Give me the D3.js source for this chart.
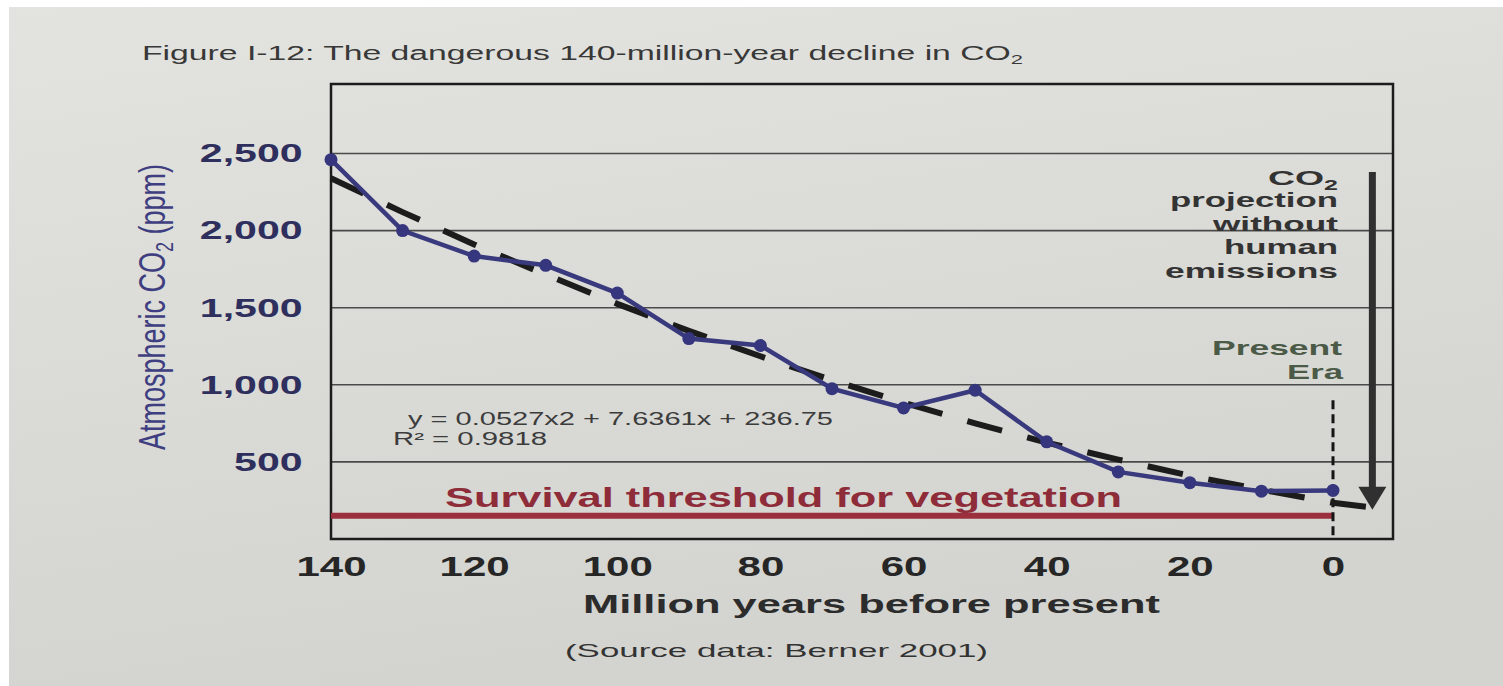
<!DOCTYPE html>
<html>
<head>
<meta charset="utf-8">
<script src="https://cdn.jsdelivr.net/npm/d3@7"></script>
<style>
body{margin:0;background:#fff;overflow:hidden}
text{font-family:"Liberation Sans",Arial,sans-serif}
</style>
</head>
<body>
<div id="chart"></div>
<script>
// data (million years before present -> ppm)
var years = [140,130,120,110,100,90,80,70,60,50,40,30,20,10,0]
var co2 = [2460,2000,1835,1775,1595,1300,1255,975,850,965,630,435,365,310,315]
// polynomial trend line as drawn (dashed)
var trendYears = [140,130,120,110,100,90,80,70,60,50,40,30,20,10,0,-8]
var trendCo2 = [2340,2120,1910,1715,1525,1350,1185,1030,885,750,625,515,410,320,235,190]
var xTicks = [140,120,100,80,60,40,20,0]
var yTicks = [500,1000,1500,2000,2500]
var threshold = 150
var projectionLabel = ['projection','without','human','emissions']

var W = 1503, H = 686
var SX = 1.5 // the photo is stretched sideways, so is the type

var svg = d3.select('#chart').append('svg').attr('width', W).attr('height', H)

// paper
var grad = svg.append('defs').append('linearGradient').attr('id', 'paper')
  .attr('x1', 0).attr('y1', 0).attr('x2', 0.3).attr('y2', 1)
grad.append('stop').attr('offset', 0).attr('stop-color', '#e3e3df')
grad.append('stop').attr('offset', 1).attr('stop-color', '#d3d3cf')
svg.append('rect').attr('width', W).attr('height', H).attr('fill', 'url(#paper)')
svg.append('rect').attr('width', W).attr('height', 7).attr('fill', '#fff')
svg.append('rect').attr('width', 9).attr('height', H).attr('fill', '#fff')

var margin = {left: 331, top: 84}
var width = 1062, height = 455

var g = svg.append('g').attr('transform', 'translate(' + margin.left + ',' + margin.top + ')')

var x = d3.scaleLinear().domain([140, 0]).range([0, 1002])
var y = d3.scaleLinear().domain([0, 2500]).range([height, height - 385.5])

function txt(sel, px, py, str, o) {
  var t = sel.append('text')
    .attr('text-anchor', o.anchor || 'start')
    .style('font-size', o.size + 'px')
    .style('font-weight', o.weight || 'normal')
    .attr('fill', o.color)
  if (o.width) {
    t.attr('x', px).attr('y', py)
      .attr('textLength', o.width).attr('lengthAdjust', 'spacingAndGlyphs')
  } else {
    t.attr('transform', 'translate(' + px + ',' + py + ') scale(' + SX + ',1)')
  }
  if (str != null) t.text(str)
  return t
}

// gridlines
g.selectAll('line.grid').data(yTicks).enter().append('line')
  .attr('x1', 0).attr('x2', width)
  .attr('y1', d => y(d)).attr('y2', d => y(d))
  .attr('stroke', '#4a4a4a').attr('stroke-width', 1.6)

// frame
g.append('rect').attr('width', width).attr('height', height)
  .attr('fill', 'none').attr('stroke', '#1c1c1c').attr('stroke-width', 2.5)

// axes
var yAxis = g.append('g').call(d3.axisLeft(y).tickValues(yTicks).tickSize(0).tickPadding(18).tickFormat(d3.format(',')))
yAxis.select('.domain').remove()
yAxis.selectAll('text').attr('transform', 'scale(1.58,1)')
  .style('font-size', '26px').style('font-weight', 'bold').attr('fill', '#2f2f5e')

var xAxis = g.append('g').attr('transform', 'translate(0,' + height + ')')
  .call(d3.axisBottom(x).tickValues(xTicks).tickSize(0).tickPadding(17))
xAxis.select('.domain').remove()
xAxis.selectAll('text').attr('transform', 'scale(' + SX + ',1)')
  .style('font-size', '28px').style('font-weight', 'bold').attr('fill', '#262626')

// survival threshold
g.append('line').attr('x1', x(140)).attr('x2', x(0))
  .attr('y1', y(threshold)).attr('y2', y(threshold))
  .attr('stroke', '#9c2f3d').attr('stroke-width', 6)
txt(svg, 445, 507, 'Survival threshold for vegetation', {size: 28, weight: 'bold', color: '#8e2c39', width: 677})

// present era marker
g.append('line').attr('x1', x(0)).attr('x2', x(0))
  .attr('y1', y(900)).attr('y2', y(0))
  .attr('stroke', '#151515').attr('stroke-width', 3).attr('stroke-dasharray', '9,5')

// trend line
var trend = trendYears.map((d, i) => ({yr: d, v: trendCo2[i]}))
g.append('path').datum(trend)
  .attr('d', d3.line().x(d => x(d.yr)).y(d => y(d.v)))
  .attr('fill', 'none').attr('stroke', '#1c1c1c').attr('stroke-width', 6)
  .attr('stroke-dasharray', '36,26')

// data
var pts = years.map((d, i) => ({yr: d, v: co2[i]}))
g.append('path').datum(pts)
  .attr('d', d3.line().x(d => x(d.yr)).y(d => y(d.v)))
  .attr('fill', 'none').attr('stroke', '#39397e').attr('stroke-width', 4.5)
g.selectAll('circle').data(pts).enter().append('circle')
  .attr('cx', d => x(d.yr)).attr('cy', d => y(d.v)).attr('r', 6.5)
  .attr('fill', '#36367e')

// projection arrow
var ax = x(-5.5), aTop = y(2380), aTip = y(190)
g.append('line').attr('x1', ax).attr('x2', ax).attr('y1', aTop).attr('y2', aTip - 20)
  .attr('stroke', '#303030').attr('stroke-width', 7)
g.append('path').attr('d', 'M' + (ax - 14) + ',' + (aTip - 23) + 'L' + (ax + 14) + ',' + (aTip - 23) + 'L' + ax + ',' + aTip + 'Z')
  .attr('fill', '#303030')

// annotations
var co = txt(svg, 1338, 185, null, {size: 21, weight: 'bold', color: '#333', anchor: 'end', width: 70})
co.append('tspan').text('CO')
co.append('tspan').attr('dy', 5).style('font-size', '14px').text('2')
var projW = [168, 125, 114, 173]
projectionLabel.forEach(function(s, i) {
  txt(svg, 1338, 207 + i * 23.5, s, {size: 21, weight: 'bold', color: '#333', anchor: 'end', width: projW[i]})
})
txt(svg, 1342, 355, 'Present', {size: 21, weight: 'bold', color: '#4b5a47', anchor: 'end', width: 130})
txt(svg, 1343, 379, 'Era', {size: 21, weight: 'bold', color: '#4b5a47', anchor: 'end', width: 56})

txt(svg, 408, 425, 'y = 0.0527x2 + 7.6361x + 236.75', {size: 18, color: '#3c3c3c', width: 425})
txt(svg, 393, 445, 'R² = 0.9818', {size: 18, color: '#3c3c3c', width: 154})

// titles
var title = txt(svg, 142, 60, null, {size: 20, color: '#383838', width: 881})
title.append('tspan').text('Figure I-12: The dangerous 140-million-year decline in CO')
title.append('tspan').attr('dy', 4).style('font-size', '13px').text('2')

txt(svg, 583, 613, 'Million years before present', {size: 25, weight: 'bold', color: '#2c2c2c', width: 577})
txt(svg, 565, 657, '(Source data: Berner 2001)', {size: 19, color: '#333', width: 423})

var yl = svg.append('text')
  .attr('transform', 'translate(165,307) scale(1.35,1) rotate(-90)')
  .attr('text-anchor', 'middle').style('font-size', '27px').attr('fill', '#3e3e80')
yl.append('tspan').text('Atmospheric CO')
yl.append('tspan').attr('dy', 6).style('font-size', '18px').text('2')
yl.append('tspan').attr('dy', -6).text(' (ppm)')
</script>
</body>
</html>
